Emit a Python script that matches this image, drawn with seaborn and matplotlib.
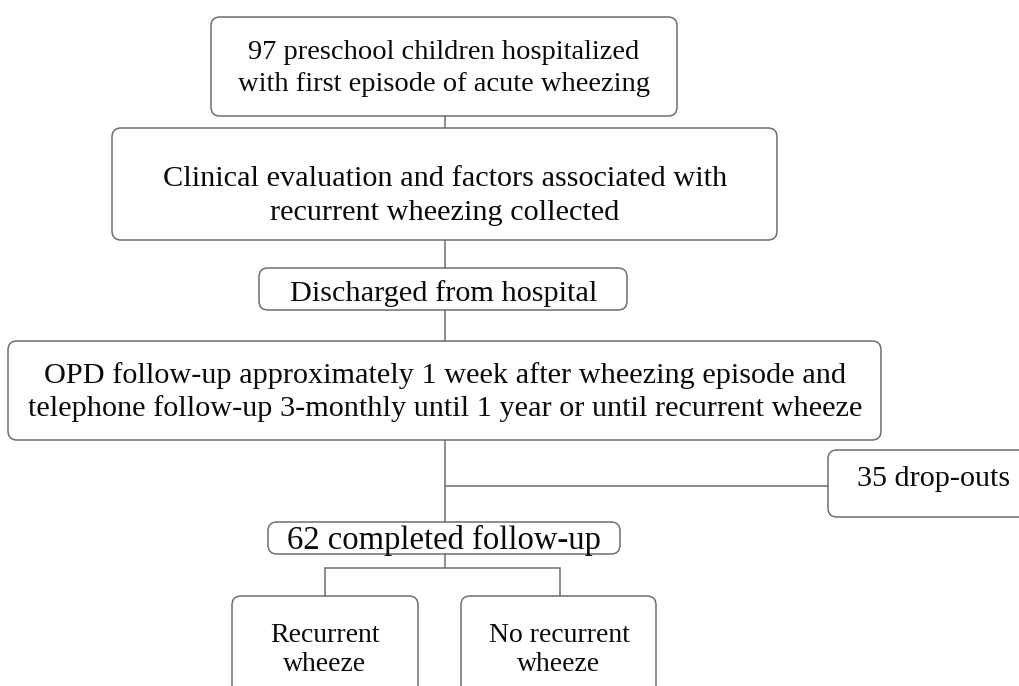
import matplotlib
matplotlib.use("Agg")
import matplotlib.pyplot as plt
from matplotlib.patches import FancyBboxPatch
import seaborn as sns

sns.set_theme(style="white")
plt.rcParams['font.family'] = ['Liberation Serif', 'DejaVu Serif']

# counts shown in the flow
n_total = 97
n_dropout = 35
n_completed = 62

labels = [
    "%d preschool children hospitalized\nwith first episode of acute wheezing" % n_total,
    "Clinical evaluation and factors associated with\nrecurrent wheezing collected",
    "Discharged from hospital",
    "OPD follow-up approximately 1 week after wheezing episode and\ntelephone follow-up 3-monthly until 1 year or until recurrent wheeze",
    "%d drop-outs" % n_dropout,
    "%d completed follow-up" % n_completed,
    "Recurrent\nwheeze",
    "No recurrent\nwheeze",
]

# layout in pixels: x0, y0, x1, y1, text x, text y, font size, line spacing
boxes = [
    (211, 17, 677, 116, 444, 68.5, 20.5, 1.4),
    (112, 128, 777, 240, 445, 196, 21.8, 1.35),
    (259, 268, 627, 310, 444, 293.5, 21.8, 1.0),
    (8, 341, 881, 440, 445, 392, 21.8, 1.3),
    (828, 450, 1030, 517, 934, 479, 21.7, 1.0),
    (268, 522, 620, 554, 444, 540, 23.5, 1.0),
    (232, 596, 418, 710, 325, 650, 20, 1.25),
    (461, 596, 656, 710, 559, 650, 20, 1.25),
]

connectors = [
    ([445, 445], [116, 128]),
    ([445, 445], [240, 268]),
    ([445, 445], [310, 341]),
    ([445, 445], [440, 522]),
    ([445, 828], [486, 486]),
    ([445, 445], [554, 568]),
    ([325, 560], [568, 568]),
    ([325, 325], [568, 596]),
    ([560, 560], [568, 596]),
]

fig = plt.figure(figsize=(10.19, 6.86), dpi=100)
ax = fig.add_axes([0, 0, 1, 1])
ax.set_xlim(0, 1019)
ax.set_ylim(686, 0)
ax.axis("off")

edge = "#6e6e6e"
for xs, ys in connectors:
    sns.lineplot(x=xs, y=ys, ax=ax, color=edge, linewidth=1.1, sort=False, estimator=None)

for label, (x0, y0, x1, y1, tx, ty, fs, ls) in zip(labels, boxes):
    ax.add_patch(FancyBboxPatch((x0, y0), x1 - x0, y1 - y0,
                                boxstyle="round,pad=0,rounding_size=9",
                                facecolor="white", edgecolor=edge, linewidth=1.1))
    ax.text(tx, ty, label, ha="center", va="center", fontsize=fs,
            color="#0a0a0a", linespacing=ls)

fig.savefig("out.png", dpi=100)
